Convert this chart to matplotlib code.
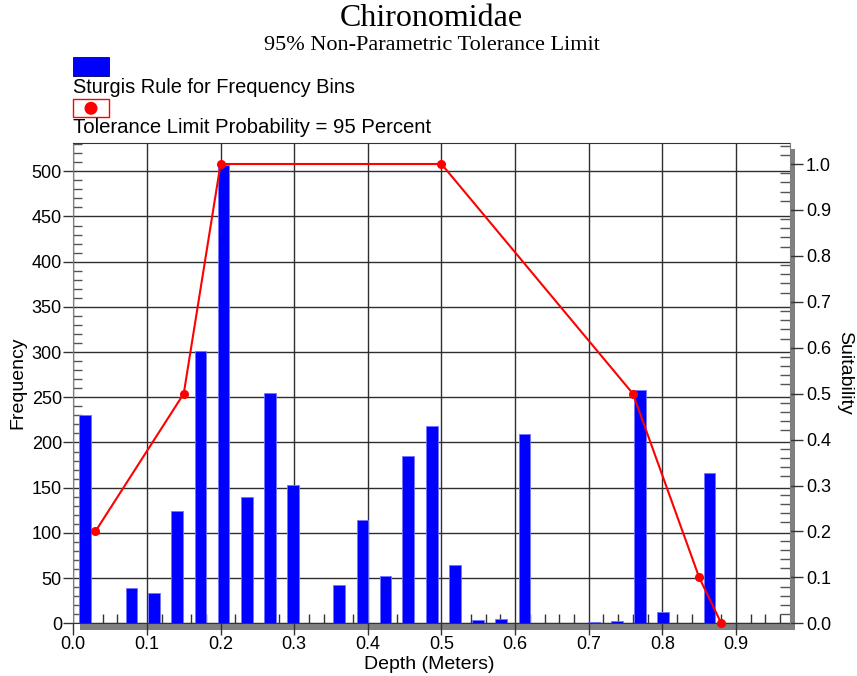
import matplotlib
matplotlib.use("Agg")
import matplotlib.pyplot as plt
from matplotlib.patches import Rectangle, Ellipse
from matplotlib.ticker import MultipleLocator

# Histogram of depths (Sturgis rule bins) and suitability curve
bin_centers = [0.016, 0.047, 0.079, 0.110, 0.141, 0.173, 0.204, 0.236, 0.267,
               0.298, 0.330, 0.361, 0.393, 0.424, 0.455, 0.487, 0.518, 0.550,
               0.581, 0.613, 0.644, 0.675, 0.707, 0.738, 0.770, 0.801, 0.832,
               0.864]
frequencies = [230, 0, 39, 33, 124, 301, 507, 140, 255,
               153, 0, 42, 114, 52, 185, 218, 65, 4,
               5, 209, 0, 0, 1, 2, 258, 13, 0,
               166]
curve_depth = [0.03, 0.15, 0.20, 0.50, 0.76, 0.85, 0.88]
curve_suitability = [0.2, 0.5, 1.0, 1.0, 0.5, 0.1, 0.0]

title = "Chironomidae"
subtitle = "95% Non-Parametric Tolerance Limit"
legend_bars = "Sturgis Rule for Frequency Bins"
legend_curve = "Tolerance Limit Probability = 95 Percent"

W, H = 857, 676
SANS = ["Liberation Sans", "DejaVu Sans"]
SERIF = ["Liberation Serif", "DejaVu Serif"]
plt.rcParams["font.family"] = SANS


def fx(px):
    return px / W


def fy(py):
    return 1 - py / H


fig = plt.figure(figsize=(W / 100, H / 100), dpi=100)
left, right, top, bottom = 73.3, 790, 142.7, 623.3
ax = fig.add_axes([fx(left), fy(bottom), fx(right - left), (bottom - top) / H])
ax2 = ax.twinx()

# bars
nz = [(c, f) for c, f in zip(bin_centers, frequencies) if f > 0]
ax.bar([c for c, _ in nz], [f for _, f in nz], width=0.0158,
       color="#0000ff", edgecolor="#7474ff", linewidth=0.6, zorder=2)

ax.set_xlim(0, (right - left) / 736.3)
ax.set_ylim(0, (bottom - top) / 0.904)
ax.xaxis.set_major_locator(MultipleLocator(0.1))
ax.xaxis.set_minor_locator(MultipleLocator(0.02))
ax.yaxis.set_major_locator(MultipleLocator(50))
ax.yaxis.set_minor_locator(MultipleLocator(10))
ax.xaxis.set_major_formatter(matplotlib.ticker.FormatStrFormatter("%.1f"))
ax.set_axisbelow(True)
ax.grid(True, which="major", color="#2e2e2e", linewidth=1.0)

ax.tick_params(axis="y", which="major", direction="out", length=7.2, width=1,
               color="#333333", labelsize=13, pad=1)
ax.tick_params(axis="y", which="minor", direction="in", length=6.5, width=1,
               color="#555555")
ax.tick_params(axis="x", which="major", direction="out", length=8.6, width=1,
               color="#333333", labelsize=13, pad=0.6)
ax.tick_params(axis="x", which="minor", direction="in", length=6.5, width=1,
               color="#333333")

ax.spines["left"].set_color("#808080")
ax.spines["top"].set_color("#333333")
ax.spines["bottom"].set_color("#333333")
ax.spines["right"].set_visible(False)
ax2.spines["right"].set_color("#808080")
for s in ["left", "top", "bottom"]:
    ax2.spines[s].set_visible(False)

# suitability curve
ax2.plot(curve_depth, curve_suitability, color="#ff0000", linewidth=1.5,
         marker="o", markersize=5.5, zorder=3, clip_on=False)
ax2.set_ylim(0, (bottom - top) / 459.3)
ax2.yaxis.set_major_locator(MultipleLocator(0.1))
ax2.yaxis.set_minor_locator(MultipleLocator(0.02))
ax2.yaxis.set_major_formatter(matplotlib.ticker.FormatStrFormatter("%.1f"))
ax2.tick_params(axis="y", which="major", direction="out", length=9.4, width=1,
                color="#333333", labelsize=13, pad=2)
ax2.tick_params(axis="y", which="minor", direction="in", length=7, width=1,
                color="#555555")

# frame shadow
fig.add_artist(Rectangle((fx(790), fy(630)), fx(5), (630 - 149) / H,
                         transform=fig.transFigure, facecolor="#808080",
                         edgecolor="none", zorder=-1))
fig.add_artist(Rectangle((fx(80), fy(630)), fx(715), 6.7 / H,
                         transform=fig.transFigure, facecolor="#808080",
                         edgecolor="none", zorder=-1))

# titles
fig.text(fx(431.5), fy(26.5), title, ha="center", va="baseline",
         fontsize=23, family=SERIF)
fig.text(fx(431.5), fy(49.5), subtitle, ha="center", va="baseline",
         fontsize=16, family=SERIF)

# legend
fig.add_artist(Rectangle((fx(73.3), fy(76)), fx(35.4), 18.7 / H,
                         transform=fig.transFigure, facecolor="#0000ff",
                         edgecolor="#000060", linewidth=0.6))
fig.text(fx(73.3), fy(93), legend_bars, ha="left", va="baseline", fontsize=14.4)
fig.add_artist(Rectangle((fx(73.3), fy(117.3)), fx(35.4), 18 / H,
                         transform=fig.transFigure, facecolor="white",
                         edgecolor="#ff0000", linewidth=1.0))
fig.add_artist(Ellipse((fx(91), fy(108.3)), fx(13), 13 / H,
                       transform=fig.transFigure, facecolor="#ff0000",
                       edgecolor="none"))
fig.text(fx(73.3), fy(133), legend_curve, ha="left", va="baseline",
         fontsize=14.6)

# axis titles
fig.text(fx(429.5), fy(669), "Depth (Meters)", ha="center", va="baseline",
         fontsize=14)
fig.text(fx(18), fy(383), "Frequency", ha="center", va="center",
         rotation=90, fontsize=14)
fig.text(fx(845), fy(373), "Suitability", ha="center", va="center",
         rotation=270, fontsize=14)

fig.savefig("out.png", dpi=100)
